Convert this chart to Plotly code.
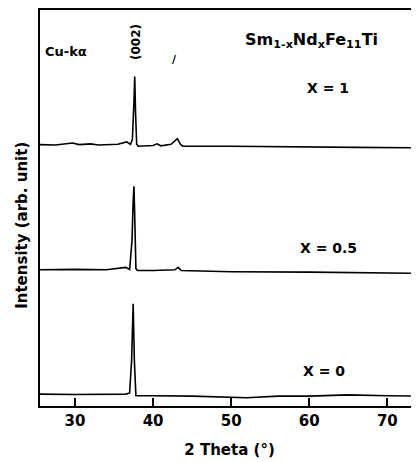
import plotly.graph_objects as go

# 2-theta positions (degrees) and intensities (arb. units, stacked as drawn)
theta_x1 = [25.5, 27.5, 29.7, 30.5, 32.0, 33.0, 35.5, 36.6, 37.1, 37.35, 37.55, 37.65,
            37.75, 37.9, 38.1, 40.0, 40.5, 41.0, 42.3, 42.9, 43.1, 43.5, 43.8, 50.0,
            60.0, 66.0, 74.1]
inten_x1 = [66.0, 65.9, 66.4, 66.0, 66.2, 65.9, 66.1, 66.7, 66.1, 67.3, 76.9, 83.2,
            74.4, 66.1, 65.6, 65.8, 66.2, 65.7, 66.1, 67.2, 67.5, 66.1, 65.6, 65.6,
            65.3, 65.3, 65.2]

theta_x05 = [25.5, 30.0, 34.0, 36.2, 36.5, 37.0, 37.3, 37.45, 37.55, 37.65, 37.8, 38.0,
             40.0, 42.8, 43.2, 43.6, 50.0, 60.0, 74.1]
inten_x05 = [34.4, 34.5, 34.4, 34.8, 35.0, 34.5, 41.7, 51.8, 55.5, 48.0, 34.7, 34.2,
             34.2, 34.4, 35.0, 34.2, 33.9, 33.8, 33.5]

theta_x0 = [25.5, 30.0, 36.5, 37.0, 37.25, 37.45, 37.6, 37.8, 40.0, 45.0, 52.0, 56.0,
            60.0, 65.0, 70.0, 74.1]
inten_x0 = [3.0, 2.9, 3.0, 3.3, 11.6, 25.8, 11.6, 2.6, 2.6, 2.5, 2.1, 2.5,
            2.5, 2.8, 2.6, 2.5]

tick_vals = [30, 40, 50, 60, 70]
tick_text = ["30", "40", "50", "60", "70"]

FONT = "DejaVu Sans"
fig = go.Figure()
for th, it in [(theta_x1, inten_x1), (theta_x05, inten_x05), (theta_x0, inten_x0)]:
    fig.add_trace(go.Scatter(x=th, y=it, mode="lines",
                             line=dict(color="black", width=1.6),
                             showlegend=False, hoverinfo="skip"))

def label(text, x, y, size=13, angle=0):
    fig.add_annotation(x=x, y=y, xref="x", yref="y", text=text, showarrow=False,
                       textangle=angle,
                       font=dict(family=FONT, size=size, color="black", weight="bold"))

label("Cu-kα", 28.85, 89.4, 13)
label("(002)", 37.8, 91.9, 12, -90)
label("/", 42.8, 87.6, 11)
label("Sm<sub>1-x</sub>Nd<sub>x</sub>Fe<sub>11</sub>Ti", 60.3, 92.4, 16)
label("X = 1", 62.4, 80.3, 14)
label("X = 0.5", 62.5, 39.9, 14)
label("X = 0", 61.9, 8.8, 14)

# y-axis title placed as a rotated annotation (left of the axis)
fig.add_annotation(text="Intensity (arb. unit)", xref="paper", yref="paper",
                   x=0, y=0.455, xanchor="center", yanchor="middle", xshift=-18,
                   textangle=-90, showarrow=False,
                   font=dict(family=FONT, size=15, color="black", weight="bold"))

fig.update_layout(
    width=411, height=454,
    margin=dict(l=32, r=0, t=2, b=56),
    paper_bgcolor="white", plot_bgcolor="white",
    font=dict(family=FONT, size=15, color="black", weight="bold"),
    xaxis=dict(range=[25.52, 74.05], tickvals=tick_vals, ticktext=tick_text,
               ticks="inside", ticklen=8, tickwidth=1.6, tickcolor="black",
               showline=True, linecolor="black", linewidth=1.8, mirror=True,
               showgrid=False, zeroline=False,
               tickfont=dict(family=FONT, size=15, weight="bold"),
               title=dict(text="2 Theta (°)", standoff=16,
                          font=dict(family=FONT, size=15, weight="bold"))),
    yaxis=dict(range=[0, 100], showticklabels=False, ticks="",
               showline=True, linecolor="black", linewidth=1.8, mirror=False,
               showgrid=False, zeroline=False),
)

fig.write_html("out.html")
